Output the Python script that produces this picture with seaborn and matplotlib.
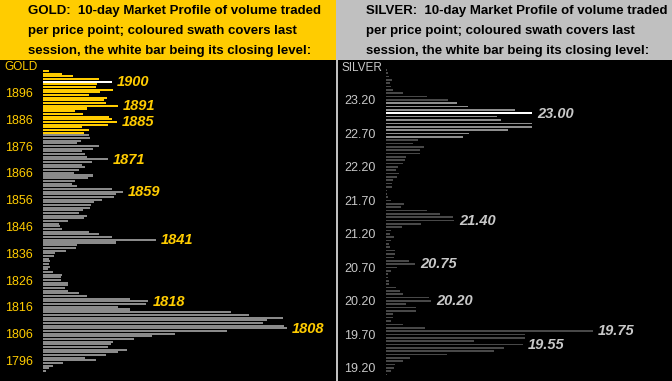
import matplotlib
matplotlib.use("Agg")
import matplotlib.pyplot as plt
import seaborn as sns
import pandas as pd
from matplotlib.patches import Rectangle

# ---------------- data ----------------
gold_top_price = 1904
gold_volume = [6, 19, 30, 56, 69, 54, 53, 70, 57, 46, 64, 61, 63, 75, 44, 32, 40, 66, 69, 74,
               65, 39, 46, 41, 46, 47, 38, 34, 56, 50, 39, 42, 44, 65, 49, 39, 42, 36, 31, 50,
               45, 32, 29, 34, 69, 80, 73, 71, 59, 51, 48, 47, 40, 36, 44, 41, 25, 16, 17, 19,
               46, 56, 69, 113, 73, 34, 33, 23, 12, 11, 6, 7, 6, 7, 5, 10, 19, 18, 18, 25,
               25, 22, 25, 36, 44, 87, 105, 103, 75, 87, 188, 206, 240, 224, 220, 241, 244, 184,
               132, 109, 91, 70, 68, 65, 84, 75, 63, 42, 53, 20, 10, 6, 3]
gold_prices = list(range(gold_top_price, gold_top_price - len(gold_volume), -1))
gold_session_low = 1881
gold_close = 1900
gold_marked = [1900, 1891, 1885, 1871, 1859, 1841, 1818, 1808]
gold_ticks = [1796, 1806, 1816, 1826, 1836, 1846, 1856, 1866, 1876, 1886, 1896]

silver_top_cents = 2365
silver_volume = [1, 2, 3, 6, 4, 5, 7, 17, 41, 62, 71, 82, 129, 146, 111, 115, 146, 146, 122, 83,
                 77, 32, 27, 38, 34, 34, 20, 19, 17, 12, 10, 13, 11, 7, 6, 6, 1, 1, 2, 5,
                 18, 15, 41, 54, 67, 68, 35, 16, 5, 4, 8, 5, 3, 4, 9, 9, 8, 23, 29, 11,
                 5, 2, 2, 3, 3, 10, 14, 17, 43, 45, 20, 30, 30, 7, 7, 5, 17, 39, 207, 139,
                 139, 88, 137, 118, 108, 61, 24, 17, 9, 8, 5, 1]
silver_prices = [round((silver_top_cents - 5 * i) / 100, 2) for i in range(len(silver_volume))]
silver_session = (22.65, 23.15)
silver_close = 23.00
silver_marked = [23.00, 21.40, 20.75, 20.20, 19.75, 19.55]
silver_ticks = [19.20, 19.70, 20.20, 20.70, 21.20, 21.70, 22.20, 22.70, 23.20]

gold_title = ["GOLD:  10-day Market Profile of volume traded",
              "per price point; coloured swath covers last",
              "session, the white bar being its closing level:"]
silver_title = ["SILVER:  10-day Market Profile of volume traded",
                "per price point; coloured swath covers last",
                "session, the white bar being its closing level:"]

# ---------------- colours ----------------
GOLD_YEL = "#FFCC00"
GOLD_GREY = "#8A8A8A"
SILVER_HDR = "#C0C0C0"
SILVER_LIGHT = "#8E8E8E"
SILVER_DARK = "#484848"
SILVER_TXT = "#C8C8C8"

sns.set_theme(style="white")
plt.rcParams["font.family"] = ["Liberation Sans", "DejaVu Sans"]

W, H = 672, 381
fig = plt.figure(figsize=(W / 100, H / 100), dpi=100, facecolor="black")


def fx(x):
    return x / W


def fy(y):
    return 1 - y / H


# backgrounds
fig.add_artist(Rectangle((0, fy(60)), fx(336), 60 / H, transform=fig.transFigure,
                         facecolor=GOLD_YEL, edgecolor="none", zorder=0))
fig.add_artist(Rectangle((fx(336), fy(60)), fx(W - 336), 60 / H, transform=fig.transFigure,
                         facecolor=SILVER_HDR, edgecolor="none", zorder=0))
fig.add_artist(Rectangle((fx(336), 0), fx(1.5), fy(60), transform=fig.transFigure,
                         facecolor=SILVER_HDR, edgecolor="none", zorder=0))

for i, line in enumerate(gold_title):
    fig.text(fx(28), fy(11 + 20 * i), line, ha="left", va="center", fontsize=9.55,
             fontweight="bold", color="black")
for i, line in enumerate(silver_title):
    fig.text(fx(365.5), fy(11 + 20 * i), line, ha="left", va="center", fontsize=9.55,
             fontweight="bold", color="black")

fig.text(fx(4), fy(67), "GOLD", ha="left", va="center", fontsize=8.5, color=GOLD_YEL)
fig.text(fx(341), fy(68), "SILVER", ha="left", va="center", fontsize=8.5, color=SILVER_TXT)


def style_axis(ax, ticks, labels, color):
    ax.set_yticks(ticks)
    ax.set_yticklabels(labels)
    ax.set_xticks([])
    ax.tick_params(axis="y", length=0, pad=7.5, labelsize=9, labelcolor=color)
    ax.set_xlabel("")
    ax.set_ylabel("")
    ax.set_facecolor("none")
    for s in ax.spines.values():
        s.set_visible(False)


def recolor(ax, colour_of, step, frac):
    for patch in ax.patches:
        c = patch.get_y() + patch.get_height() / 2
        patch.set_y(c - step * frac / 2)
        patch.set_height(step * frac)
        patch.set_facecolor(colour_of(c))
        patch.set_edgecolor("none")


# ---------------- gold panel ----------------
gdf = pd.DataFrame({"price": gold_prices, "volume": gold_volume})
axg = fig.add_axes([fx(43), 0, fx(330 - 43), (H - 60) / H])
sns.barplot(data=gdf, x="volume", y="price", orient="h", native_scale=True,
            color=GOLD_GREY, width=0.75, errorbar=None, saturation=1, ax=axg)


def gold_colour(c):
    p = round(c)
    if p == gold_close:
        return "white"
    if p >= gold_session_low:
        return GOLD_YEL
    return GOLD_GREY


recolor(axg, gold_colour, 1.0, 0.75)
axg.set_xlim(0, 287)
axg.set_ylim(1900 - (381 - 81.7) / 2.68, 1900 + (81.7 - 60) / 2.68)
style_axis(axg, gold_ticks, [str(t) for t in gold_ticks], GOLD_YEL)
gv = dict(zip(gold_prices, gold_volume))
for p in gold_marked:
    axg.text(gv[p] + 5, p - 0.2, str(p), ha="left", va="center", fontsize=10.5,
             fontweight="bold", fontstyle="italic", color=GOLD_YEL)

# ---------------- silver panel ----------------
sdf = pd.DataFrame({"price": silver_prices, "volume": silver_volume})
axs = fig.add_axes([fx(386), 0, fx(668 - 386), (H - 60) / H])
sns.barplot(data=sdf, x="volume", y="price", orient="h", native_scale=True,
            color=SILVER_DARK, width=0.5, errorbar=None, saturation=1, ax=axs)


def silver_colour(c):
    p = round(c * 20) / 20
    if abs(p - silver_close) < 1e-6:
        return "white"
    if silver_session[0] - 1e-6 <= p <= silver_session[1] + 1e-6:
        return SILVER_LIGHT
    return SILVER_DARK


recolor(axs, silver_colour, 0.05, 0.5)
axs.set_xlim(0, 282)
axs.set_ylim(23.00 - (381 - 113.3) / 67, 23.00 + (113.3 - 60) / 67)
style_axis(axs, silver_ticks, [f"{t:.2f}" for t in silver_ticks], SILVER_TXT)
sv = {round(p, 2): v for p, v in zip(silver_prices, silver_volume)}
for p in silver_marked:
    axs.text(sv[round(p, 2)] + 5, p - 0.003, f"{p:.2f}", ha="left", va="center", fontsize=10.5,
             fontweight="bold", fontstyle="italic", color=SILVER_TXT)

fig.savefig("out.png", dpi=100, facecolor=fig.get_facecolor())
